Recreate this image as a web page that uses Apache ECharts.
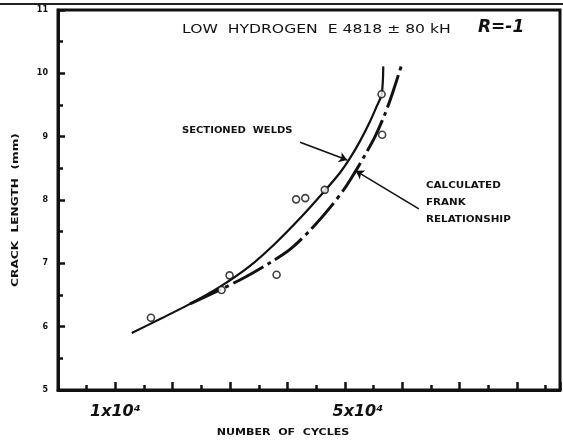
<!DOCTYPE html>
<html>
<head>
<meta charset="utf-8">
<script src="https://cdn.jsdelivr.net/npm/echarts@6/dist/echarts.min.js"></script>
<style>
  html, body { margin: 0; padding: 0; background: #fff; }
  #chart { width: 563px; height: 440px; }
</style>
</head>
<body>
<div id="chart"></div>
<script>
// Measured weld crack lengths (mm) against number of cycles
const weldCycles = [16200, 28500, 29900, 38100, 41500, 43100, 46500, 56400, 56500];
const weldCrack  = [6.14, 6.58, 6.81, 6.82, 8.01, 8.03, 8.16, 9.67, 9.03];

// Curve drawn through the sectioned welds
const sectionedCycles = [12850, 17780, 23010, 28410, 33470, 37820, 42180, 46540, 49150, 50900, 52640, 54380, 55600, 56420, 56700];
const sectionedCrack  = [5.90, 6.12, 6.36, 6.64, 6.96, 7.31, 7.71, 8.15, 8.43, 8.66, 8.93, 9.24, 9.49, 9.67, 10.11];

// Calculated Frank relationship
const frankCycles = [23010, 28410, 32600, 36950, 40440, 43920, 47410, 50030, 51770, 53510, 55260, 57000, 58390, 59910];
const frankCrack  = [6.36, 6.59, 6.78, 7.01, 7.22, 7.52, 7.88, 8.19, 8.44, 8.71, 9.00, 9.36, 9.71, 10.14];

// Leader lines from the two curve notes (cycles, mm)
const sectionedLeader = [[42200, 8.91], [50400, 8.63]];
const frankLeader     = [[62900, 7.86], [51900, 8.46]];

// Labelled positions on the cycle axis
const cycleTickLabels = { 10000: '{a|1x10⁴}', 50000: '{b|5x10⁴}' };

const zip = (xs, ys) => xs.map((x, i) => [x, ys[i]]);

const ink = '#111';
const stencil = 'DejaVu Sans';

const chart = echarts.init(document.getElementById('chart'), null, { renderer: 'canvas' });

chart.setOption({
  animation: false,
  backgroundColor: '#fff',
  grid: {
    left: 58, right: 3, top: 10, bottom: 50,
    show: true, borderColor: ink, borderWidth: 3, backgroundColor: 'transparent'
  },
  xAxis: {
    type: 'value', min: 0, max: 87500, interval: 10000,
    axisLine: { show: true, onZero: false, lineStyle: { color: ink, width: 3 } },
    axisTick: { show: true, inside: true, length: 8, lineStyle: { color: ink, width: 2.5 } },
    minorTick: { show: true, splitNumber: 2, length: 5, lineStyle: { color: ink, width: 2.5 } },
    splitLine: { show: false },
    axisLabel: {
      margin: 14,
      color: ink,
      formatter: v => cycleTickLabels[v] || '',
      rich: {
        a: { fontFamily: stencil, fontSize: 16, fontWeight: 'bold', fontStyle: 'italic', color: ink },
        b: { fontFamily: stencil, fontSize: 16, fontWeight: 'bold', fontStyle: 'italic', color: ink, padding: [0, 0, 0, 26] }
      }
    }
  },
  yAxis: {
    type: 'value', min: 5, max: 11, interval: 1,
    axisLine: { show: true, lineStyle: { color: ink, width: 3 } },
    axisTick: { show: true, inside: true, length: 7, lineStyle: { color: ink, width: 2.5 } },
    minorTick: { show: true, splitNumber: 2, length: 5, lineStyle: { color: ink, width: 2.5 } },
    splitLine: { show: false },
    axisLabel: { margin: 10, fontSize: 8, fontWeight: 'bold', fontFamily: stencil, color: ink }
  },
  series: [
    {
      name: 'Sectioned welds',
      type: 'line',
      data: zip(sectionedCycles, sectionedCrack),
      smooth: 0.3,
      symbol: 'none',
      lineStyle: { color: ink, width: 2.2 },
      z: 3
    },
    {
      name: 'Calculated Frank relationship',
      type: 'line',
      data: zip(frankCycles, frankCrack),
      smooth: 0.3,
      symbol: 'none',
      lineStyle: { color: ink, width: 3, type: [34, 5, 4, 5] },
      z: 3
    },
    {
      name: 'Welds',
      type: 'scatter',
      data: zip(weldCycles, weldCrack),
      symbol: 'circle',
      symbolSize: 7,
      itemStyle: { color: '#fff', borderColor: ink, borderWidth: 1.6 },
      z: 5
    },
    {
      name: 'Notes',
      type: 'lines',
      coordinateSystem: 'cartesian2d',
      symbol: ['none', 'arrow'],
      symbolSize: 8,
      lineStyle: { color: ink, width: 1.6, opacity: 1 },
      data: [{ coords: sectionedLeader }, { coords: frankLeader }],
      z: 4
    }
  ],
  graphic: [
    // edge rule above the frame
    { type: 'line', shape: { x1: 0, y1: 4, x2: 563, y2: 4 }, style: { stroke: '#222', lineWidth: 2 } },
    {
      type: 'text', x: 182, y: 30, scaleX: 1.2,
      style: { text: 'LOW  HYDROGEN  E 4818 ± 80 kH', fontFamily: stencil, fontSize: 13, fill: ink, verticalAlign: 'middle' }
    },
    {
      type: 'text', x: 478, y: 28,
      style: { text: 'R=-1', fontFamily: stencil, fontSize: 17, fontWeight: 'bold', fontStyle: 'italic', fill: ink, verticalAlign: 'middle' }
    },
    {
      type: 'text', x: 182, y: 131, scaleX: 1.11,
      style: { text: 'SECTIONED  WELDS', fontFamily: stencil, fontSize: 9, fontWeight: 'bold', fill: ink, verticalAlign: 'middle' }
    },
    {
      type: 'text', x: 426, y: 177, scaleX: 1.15,
      style: { text: 'CALCULATED\nFRANK\nRELATIONSHIP', fontFamily: stencil, fontSize: 9, fontWeight: 'bold', fill: ink, lineHeight: 17, verticalAlign: 'top' }
    },
    {
      type: 'text', x: 16, y: 210, rotation: Math.PI / 2, scaleX: 1.35,
      style: { text: 'CRACK  LENGTH  (mm)', fontFamily: stencil, fontSize: 9, fontWeight: 'bold', fill: ink, align: 'center', verticalAlign: 'middle' }
    },
    {
      type: 'text', x: 283, y: 433, scaleX: 1.23,
      style: { text: 'NUMBER  OF  CYCLES', fontFamily: stencil, fontSize: 9, fontWeight: 'bold', fill: ink, align: 'center', verticalAlign: 'middle' }
    }
  ]
});
</script>
</body>
</html>
